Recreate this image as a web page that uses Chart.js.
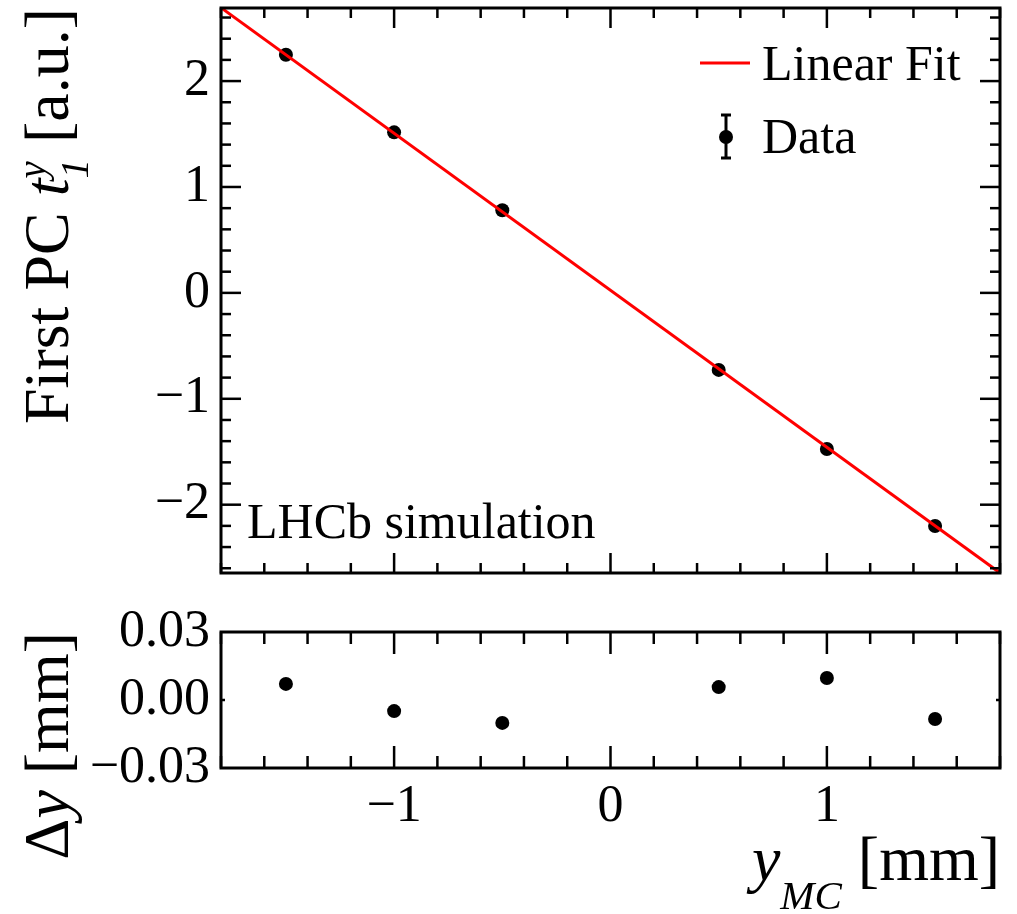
<!DOCTYPE html>
<html>
<head>
<meta charset="utf-8">
<script src="https://cdn.jsdelivr.net/npm/chart.js@4.4.1/dist/chart.umd.min.js"></script>
<style>
	html, body { margin: 0; padding: 0; background: #fff; }
	#wrap { position: relative; width: 1017px; height: 914px; }
	canvas { position: absolute; left: 0; }
	#pcChart { top: 0; }
	#resChart { top: 600px; }
</style>
</head>
<body>
<div id="wrap">
	<canvas id="pcChart" width="1017" height="600"></canvas>
	<canvas id="resChart" width="1017" height="314"></canvas>
</div>
<script>
// values
const yMC = [-1.5, -1.0, -0.5, 0.5, 1.0, 1.5];
const firstPC = [2.249, 1.516, 0.780, -0.727, -1.474, -2.201];
const deltaY = [0.0071, -0.0049, -0.0101, 0.0057, 0.0097, -0.0084];

// linear fit result
const fitSlope = -1.4825;
const fitOffset = 0.024;

const xRange = [-1.8, 1.8];
const pcRange = [-2.645, 2.69];
const dyRange = [-0.03, 0.03];

const xTickLabels = [-1, 0, 1];
const pcTickLabels = [-2, -1, 0, 1, 2];
const dyTickLabels = [-0.03, 0, 0.03];

const SERIF = "'Liberation Serif', 'Times New Roman', serif";
const MINUS = '\u2212';

const fmt = (v, digits) => (v < -1e-9 ? MINUS : '') + Math.abs(v).toFixed(digits);

function stepValues(min, max, step) {
	const out = [];
	for (let i = Math.ceil(min / step - 1e-6); i * step <= max + 1e-6; i += 1) {
		out.push(Math.round(i * step * 1000) / 1000);
	}
	return out;
}

const isMajor = (v) => Math.abs(v - Math.round(v)) < 1e-6;

function line(ctx, x1, y1, x2, y2) {
	ctx.beginPath();
	ctx.moveTo(x1, y1);
	ctx.lineTo(x2, y2);
	ctx.stroke();
}

// text made of several runs (italic, sub/superscripts)
function drawRich(ctx, parts, x, y, align) {
	const widths = parts.map((part) => {
		if (part.stack) {
			return Math.max(...part.stack.map((s) => {
				ctx.font = s.font;
				return ctx.measureText(s.text).width;
			}));
		}
		ctx.font = part.font;
		return ctx.measureText(part.text).width;
	});
	const total = widths.reduce((a, b) => a + b, 0);
	let cx = align === 'right' ? x - total : x;
	ctx.textAlign = 'left';
	ctx.textBaseline = 'alphabetic';
	parts.forEach((part, i) => {
		const runs = part.stack || [part];
		runs.forEach((run) => {
			ctx.font = run.font;
			ctx.fillText(run.text, cx, y + (run.dy || 0));
		});
		cx += widths[i];
	});
}

function frameTicks(cfg) {
	return {
		id: 'frameTicks',
		afterDraw(chart) {
			const { ctx, chartArea: a, scales } = chart;
			ctx.save();
			ctx.strokeStyle = '#000';
			ctx.lineWidth = 2.5;
			cfg.xTicks.forEach((v) => {
				const px = scales.x.getPixelForValue(v);
				const len = isMajor(v) ? cfg.xMajor : cfg.xMinor;
				line(ctx, px, a.bottom, px, a.bottom - len);
				line(ctx, px, a.top, px, a.top + len);
			});
			cfg.yTicks.forEach((v) => {
				const py = scales.y.getPixelForValue(v);
				const len = cfg.yLen(v);
				line(ctx, a.left, py, a.left + len, py);
				line(ctx, a.right, py, a.right - len, py);
			});
			ctx.lineWidth = 3;
			ctx.strokeRect(a.left, a.top, a.right - a.left, a.bottom - a.top);
			ctx.restore();
		},
	};
}

const pcLabels = {
	id: 'pcLabels',
	afterDraw(chart) {
		const { ctx } = chart;
		ctx.save();
		ctx.fillStyle = '#000';

		// y title, rotated, right aligned to the top of the frame
		ctx.save();
		ctx.translate(68, 8);
		ctx.rotate(-Math.PI / 2);
		drawRich(ctx, [
			{ text: 'First PC ', font: `64px ${SERIF}` },
			{ text: 't', font: `italic 64px ${SERIF}` },
			{ stack: [
				{ text: 'y', font: `italic 39px ${SERIF}`, dy: -23 },
				{ text: '1', font: `italic 39px ${SERIF}`, dy: 20 },
			] },
			{ text: ' [a.u.]', font: `64px ${SERIF}` },
		], 0, 0, 'right');
		ctx.restore();

		ctx.font = `50px ${SERIF}`;
		ctx.textAlign = 'left';
		ctx.textBaseline = 'alphabetic';
		ctx.fillText('LHCb simulation', 247, 538);

		// legend
		ctx.strokeStyle = '#ff0000';
		ctx.lineWidth = 3;
		line(ctx, 700, 63, 750, 63);
		ctx.fillText('Linear Fit', 762, 80);

		ctx.strokeStyle = '#000';
		ctx.lineWidth = 3;
		line(ctx, 726, 115, 726, 158);
		line(ctx, 721, 115, 731, 115);
		line(ctx, 721, 158, 731, 158);
		ctx.beginPath();
		ctx.arc(726, 137, 7, 0, Math.PI * 2);
		ctx.fill();
		ctx.fillText('Data', 762, 153);
		ctx.restore();
	},
};

const resLabels = {
	id: 'resLabels',
	afterDraw(chart) {
		const { ctx } = chart;
		ctx.save();
		ctx.fillStyle = '#000';

		ctx.save();
		ctx.translate(68, 32);
		ctx.rotate(-Math.PI / 2);
		drawRich(ctx, [
			{ text: '\u0394', font: `64px ${SERIF}` },
			{ text: 'y', font: `italic 64px ${SERIF}` },
			{ text: ' [mm]', font: `64px ${SERIF}` },
		], 0, 0, 'right');
		ctx.restore();

		drawRich(ctx, [
			{ text: 'y', font: `italic 64px ${SERIF}` },
			{ text: 'MC', font: `italic 41px ${SERIF}`, dy: 29 },
			{ text: ' [mm]', font: `64px ${SERIF}` },
		], 1000, 280, 'right');
		ctx.restore();
	},
};

const tickFont = { family: SERIF, size: 52 };

const baseOptions = {
	responsive: false,
	animation: false,
	devicePixelRatio: 1,
	events: [],
	plugins: { legend: { display: false }, tooltip: { enabled: false } },
};

// keep the frame exactly where the padding puts it
const fixYWidth = (scale) => {
	scale.width = 221;
	scale.paddingTop = 0;
	scale.paddingBottom = 0;
};

const pcPoints = yMC.map((x, i) => ({ x, y: firstPC[i] }));
const fitPoints = xRange.map((x) => ({ x, y: fitOffset + fitSlope * x }));
const resPoints = yMC.map((x, i) => ({ x, y: deltaY[i] }));

new Chart(document.getElementById('pcChart'), {
	type: 'scatter',
	data: {
		datasets: [
			{
				label: 'Linear Fit',
				data: fitPoints,
				showLine: true,
				borderColor: '#ff0000',
				borderWidth: 3,
				pointRadius: 0,
			},
			{
				label: 'Data',
				data: pcPoints,
				pointRadius: 7,
				pointBorderWidth: 0,
				pointBackgroundColor: '#000',
			},
		],
	},
	options: {
		...baseOptions,
		layout: { padding: { left: 0, right: 17, top: 8, bottom: 27 } },
		scales: {
			x: { type: 'linear', min: xRange[0], max: xRange[1], display: false },
			y: {
				type: 'linear',
				min: pcRange[0],
				max: pcRange[1],
				grid: { display: false, drawTicks: false },
				border: { display: false },
				ticks: { font: tickFont, color: '#000', padding: 11, autoSkip: false, callback: (v) => fmt(v, 0) },
				afterBuildTicks: (scale) => { scale.ticks = pcTickLabels.map((value) => ({ value })); },
				afterFit: fixYWidth,
			},
		},
	},
	plugins: [
		frameTicks({
			xTicks: stepValues(xRange[0], xRange[1], 0.2),
			yTicks: stepValues(pcRange[0], pcRange[1], 0.2),
			xMajor: 20,
			xMinor: 10,
			yLen: (v) => (isMajor(v) ? 20 : 10),
		}),
		pcLabels,
	],
});

new Chart(document.getElementById('resChart'), {
	type: 'scatter',
	data: {
		datasets: [{
			label: 'Residual',
			data: resPoints,
			pointRadius: 7,
			pointBorderWidth: 0,
			pointBackgroundColor: '#000',
		}],
	},
	options: {
		...baseOptions,
		layout: { padding: { left: 0, right: 17, top: 32, bottom: 86 } },
		scales: {
			x: {
				type: 'linear',
				min: xRange[0],
				max: xRange[1],
				grid: { display: false, drawTicks: false },
				border: { display: false },
				ticks: { font: tickFont, color: '#000', padding: 8, maxRotation: 0, autoSkip: false, callback: (v) => fmt(v, 0) },
				afterBuildTicks: (scale) => { scale.ticks = xTickLabels.map((value) => ({ value })); },
				afterFit: (scale) => {
					scale.height = 60;
					scale.paddingLeft = 0;
					scale.paddingRight = 0;
				},
			},
			y: {
				type: 'linear',
				min: dyRange[0],
				max: dyRange[1],
				grid: { display: false, drawTicks: false },
				border: { display: false },
				ticks: { font: tickFont, color: '#000', padding: 11, autoSkip: false, callback: (v) => fmt(v, 2) },
				afterBuildTicks: (scale) => { scale.ticks = dyTickLabels.map((value) => ({ value })); },
				afterFit: fixYWidth,
			},
		},
	},
	plugins: [
		frameTicks({
			xTicks: stepValues(xRange[0], xRange[1], 0.2),
			yTicks: [0],
			xMajor: 22,
			xMinor: 12,
			yLen: () => 4,
		}),
		resLabels,
	],
});
</script>
</body>
</html>
